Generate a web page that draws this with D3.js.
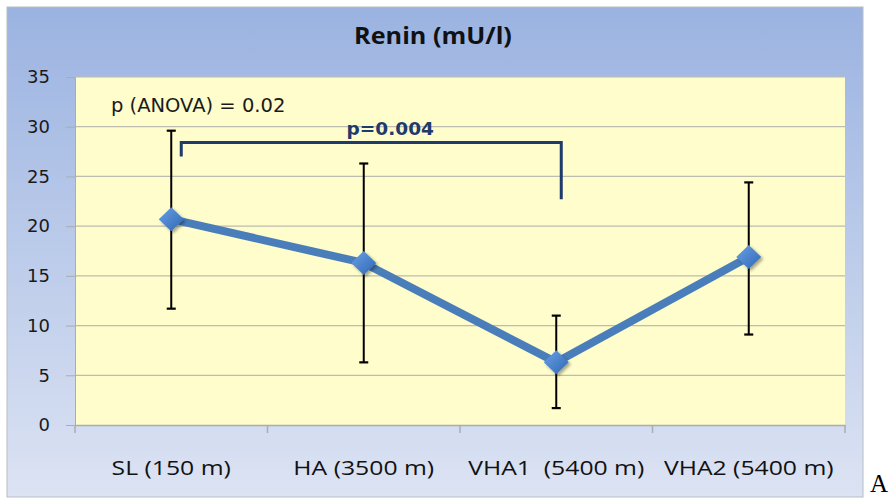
<!DOCTYPE html>
<html><head><meta charset="utf-8">
<script src="https://cdn.jsdelivr.net/npm/d3@7"></script>
<style>html,body{margin:0;padding:0;background:#fff;}svg{display:block;}</style>
</head><body>
<svg id="chart" width="895" height="499"></svg>
<script>
const categories = ["SL (150 m)", "HA (3500 m)", "VHA1  (5400 m)", "VHA2 (5400 m)"];
const means = [20.7, 16.3, 6.3, 16.9];
const upper = [29.6, 26.3, 11.0, 24.4];
const lower = [11.7, 6.3, 1.7, 9.1];
const yTicks = [0, 5, 10, 15, 20, 25, 30, 35];
const title = "Renin (mU/l)";
const anovaText = "p (ANOVA) = 0.02";
const pairText = "p=0.004";
const bracketY = 28.4, bracketLeftEnd = 27.0, bracketRightEnd = 22.7;

(function(){
const svg = d3.select("#chart");
const defs = svg.append("defs");
const bg = defs.append("linearGradient").attr("id","bg").attr("x1",0).attr("y1",0).attr("x2",0).attr("y2",1);
bg.append("stop").attr("offset","0%").attr("stop-color","#9bb3e1");
bg.append("stop").attr("offset","100%").attr("stop-color","#dce3f3");
const mg = defs.append("linearGradient").attr("id","mk").attr("x1",0).attr("y1",0).attr("x2",1).attr("y2",1);
mg.append("stop").attr("offset","0%").attr("stop-color","#6aa2e6");
mg.append("stop").attr("offset","100%").attr("stop-color","#2f66b3");
const sh = defs.append("filter").attr("id","sh").attr("x","-50%").attr("y","-50%").attr("width","200%").attr("height","200%");
sh.append("feDropShadow").attr("dx",2).attr("dy",2).attr("stdDeviation",1.5).attr("flood-color","#000").attr("flood-opacity",0.35);

svg.append("rect").attr("x",7).attr("y",7).attr("width",856).attr("height",490)
  .attr("fill","url(#bg)").attr("stroke","#b8bcc4").attr("stroke-width",1);

const pL = 75, pR = 845, pT = 77, pB = 425;
const x = d3.scaleBand().domain(categories).range([pL, pR]);
const y = d3.scaleLinear().domain([0, 35]).range([pB, pT]);

svg.append("rect").attr("x",pL).attr("y",pT).attr("width",pR-pL).attr("height",pB-pT).attr("fill","#fefdcb");

svg.append("g").selectAll("line").data(yTicks.filter(d=>d>0)).join("line")
  .attr("x1",pL).attr("x2",pR).attr("y1",d=>y(d)).attr("y2",d=>y(d))
  .attr("stroke","#bdbcb0").attr("stroke-width",1.2);

const ya = svg.append("g").attr("transform",`translate(${pL},0)`)
  .call(d3.axisLeft(y).tickValues(yTicks).tickSize(9).tickPadding(16));
ya.select(".domain").attr("stroke","#a9acb3");
ya.selectAll(".tick line").attr("stroke","#a9acb3");
ya.selectAll("text").attr("font-family","DejaVu Sans").attr("font-size",18).attr("fill","#1a1a1a");

const xa = svg.append("g").attr("transform",`translate(0,${pB})`)
  .call(d3.axisBottom(x).tickSize(0).tickPadding(0));
xa.select(".domain").attr("stroke","#a9acb3").attr("stroke-width",1.5);
xa.selectAll(".tick text").remove();
const bounds = [pL, ...categories.map(c=>x(c)+x.bandwidth())];
xa.selectAll(".sep").data(bounds).join("line").attr("class","sep")
  .attr("x1",d=>d).attr("x2",d=>d).attr("y1",0).attr("y2",8).attr("stroke","#a9acb3").attr("stroke-width",1.5);
svg.append("g").selectAll("text").data(categories).join("text")
  .attr("transform",c=>`translate(${x(c)+x.bandwidth()/2},475) scale(1.27,1)`)
  .attr("text-anchor","middle").attr("font-family","Open Sans").attr("font-size",19.5)
  .attr("fill","#111").style("white-space","pre").text(c=>c);

svg.append("text").attr("transform","translate(433,44) scale(1.05,1)").attr("text-anchor","middle")
  .attr("font-family","Open Sans").attr("font-weight","bold").attr("font-size",24).attr("fill","#111").text(title);

svg.append("text").attr("x",111).attr("y",112).attr("font-family","DejaVu Sans").attr("font-size",19.5)
  .attr("fill","#1a1a1a").text(anovaText);

const bx1 = x(categories[0]) + x.bandwidth()/2 + 10;
const bx2 = x(categories[2]) + x.bandwidth()/2 + 5;
svg.append("path")
  .attr("d",`M${bx1},${y(bracketLeftEnd)}V${y(bracketY)}H${bx2}V${y(bracketRightEnd)}`)
  .attr("fill","none").attr("stroke","#1f3a6c").attr("stroke-width",3);
svg.append("text").attr("x",(bx1+bx2)/2 + 19).attr("y",135).attr("text-anchor","middle")
  .attr("font-family","DejaVu Sans").attr("font-weight","bold").attr("font-size",18.5)
  .attr("fill","#1f3a6c").text(pairText);

const cx = c => x(c) + x.bandwidth()/2;
const eb = svg.append("g");
categories.forEach((c,i)=>{
  eb.append("line").attr("x1",cx(c)).attr("x2",cx(c)).attr("y1",y(upper[i])).attr("y2",y(lower[i]))
    .attr("stroke","#000").attr("stroke-width",2);
  [upper[i], lower[i]].forEach(v=>{
    eb.append("line").attr("x1",cx(c)-4.5).attr("x2",cx(c)+4.5).attr("y1",y(v)).attr("y2",y(v))
      .attr("stroke","#000").attr("stroke-width",2.2);
  });
});

const line = d3.line().x((d,i)=>cx(categories[i])).y(d=>y(d));
svg.append("path").datum(means).attr("d",line).attr("fill","none")
  .attr("stroke","#4a7ebb").attr("stroke-width",8).attr("stroke-linejoin","round");

svg.append("g").selectAll("path").data(means).join("path")
  .attr("transform",(d,i)=>`translate(${cx(categories[i])},${y(d)})`)
  .attr("d","M0,-12L12.5,0L0,12L-12.5,0Z").attr("fill","url(#mk)").attr("filter","url(#sh)");

svg.append("text").attr("x",870).attr("y",492).attr("font-family","Liberation Serif").attr("font-size",25)
  .attr("fill","#000").text("A");
})();
</script>
</body></html>
